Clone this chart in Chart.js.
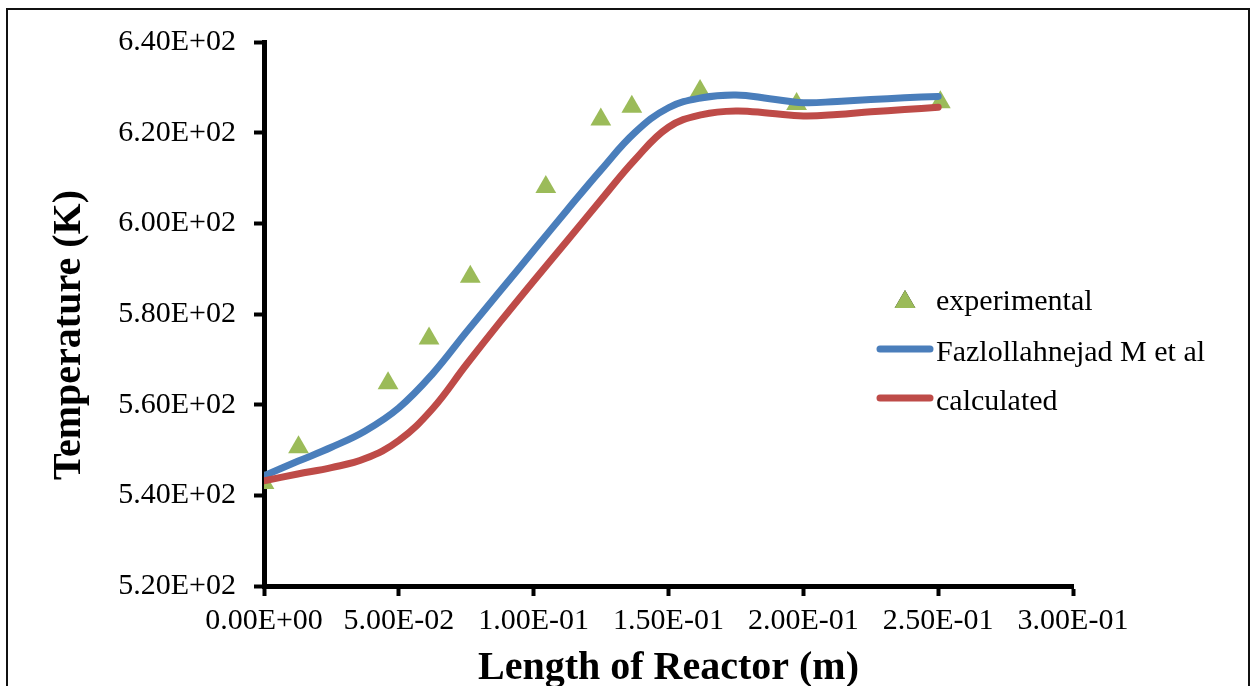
<!DOCTYPE html>
<html>
<head>
<meta charset="utf-8">
<script src="https://cdn.jsdelivr.net/npm/chart.js@4/dist/chart.umd.min.js"></script>
<style>
    body { margin: 0; background: #fff; }
    #wrap { position: relative; width: 1250px; height: 686px; overflow: hidden; }
    #frame { position: absolute; left: 6px; top: 8px; width: 1244px; height: 720px; box-sizing: border-box; border: 2px solid #111; pointer-events: none; }
</style>
</head>
<body>
<div id="wrap">
    <canvas id="reactorChart" width="1250" height="686"></canvas>
    <div id="frame"></div>
</div>
<script>
// measured positions along the reactor (m)
const expLength = [0, 0.0128, 0.046, 0.0612, 0.0765, 0.1045, 0.1249, 0.1364, 0.1617, 0.1975, 0.2508];
const experimental = [542.7, 550.6, 564.7, 574.6, 588.2, 608.0, 622.9, 625.7, 629.2, 626.3, 626.7];

// model profiles (K) at even steps along the reactor
const modelLength = [0, 0.0125, 0.025, 0.0375, 0.05, 0.0625, 0.075, 0.0875, 0.1, 0.1125, 0.125,
    0.1375, 0.15, 0.1625, 0.175, 0.1875, 0.2, 0.2125, 0.225, 0.2375, 0.25];
const fazlollahnejad = [544.3, 547.5, 550.6, 554.2, 559.3, 566.8, 576.0, 585.0, 594.0, 603.0, 611.8,
    620.0, 625.5, 627.7, 628.3, 627.5, 626.6, 626.9, 627.3, 627.7, 628.0];
const calculated = [543.2, 544.7, 546.1, 548.1, 552.1, 559.1, 568.8, 578.2, 587.3, 596.2, 605.2,
    614.0, 621.2, 624.0, 624.8, 624.3, 623.7, 624.0, 624.6, 625.1, 625.6];

const seriesNames = ['experimental', 'Fazlollahnejad M et al', 'calculated'];
const xTitle = 'Length of Reactor (m)';
const yTitle = 'Temperature (K)';
const xTicks = [0, 0.05, 0.1, 0.15, 0.2, 0.25, 0.3];
const yTicks = [520, 540, 560, 580, 600, 620, 640];

const GREEN = '#9BBB59';
const BLUE = '#4A7EBB';
const RED = '#BE4B48';
const SERIF = '"Liberation Serif", "Times New Roman", serif';

const toPoints = (xs, ys) => xs.map((x, i) => ({x: x, y: ys[i]}));

// Excel style scientific labels, e.g. 6.40E+02
const sci = v => {
    const parts = Number(v).toExponential(2).split('e');
    const exp = parseInt(parts[1], 10);
    return parts[0] + 'E' + (exp < 0 ? '-' : '+') + String(Math.abs(exp)).padStart(2, '0');
};

const titlesAndLegend = {
    id: 'titlesAndLegend',
    afterDraw(chart) {
        const {ctx, chartArea: a} = chart;
        ctx.save();
        ctx.fillStyle = '#000';
        ctx.font = 'bold 40px ' + SERIF;
        ctx.textAlign = 'center';
        ctx.textBaseline = 'alphabetic';
        ctx.fillText(xTitle, (a.left + a.right) / 2, a.bottom + 93);

        ctx.save();
        ctx.translate(a.left - 184, a.top + 293);
        ctx.rotate(-Math.PI / 2);
        ctx.fillText(yTitle, 0, 0);
        ctx.restore();

        // legend inside the plot, right side
        const lx = a.left + 672;
        const rows = [a.top + 260, a.top + 311, a.top + 360];
        ctx.font = '30px ' + SERIF;
        ctx.textAlign = 'left';
        ctx.textBaseline = 'middle';
        Chart.helpers.drawPoint(ctx, {pointStyle: 'triangle', radius: 12, rotation: 0, borderWidth: 0}, a.left + 641, rows[0]);
        ctx.fillStyle = GREEN;
        ctx.fill();
        ctx.lineCap = 'round';
        ctx.lineWidth = 7;
        [BLUE, RED].forEach((c, i) => {
            ctx.strokeStyle = c;
            ctx.beginPath();
            ctx.moveTo(a.left + 616, rows[i + 1] - 4);
            ctx.lineTo(a.left + 666, rows[i + 1] - 4);
            ctx.stroke();
        });
        ctx.fillStyle = '#000';
        seriesNames.forEach((name, i) => ctx.fillText(name, lx, rows[i]));
        ctx.restore();
    }
};

const axisCommon = {
    border: {display: true, color: '#000', width: 5},
    grid: {drawOnChartArea: false, drawTicks: true, tickLength: 10, tickWidth: 4, color: '#000'}
};

new Chart(document.getElementById('reactorChart').getContext('2d'), {
    type: 'scatter',
    data: {
        datasets: [{
            label: seriesNames[0],
            data: toPoints(expLength, experimental),
            pointStyle: 'triangle',
            pointRadius: 12,
            pointBackgroundColor: GREEN,
            pointBorderWidth: 0,
            showLine: false,
            order: 3
        }, {
            label: seriesNames[1],
            data: toPoints(modelLength, fazlollahnejad),
            showLine: true,
            pointRadius: 0,
            borderColor: BLUE,
            borderWidth: 7,
            borderCapStyle: 'round',
            borderJoinStyle: 'round',
            tension: 0.4,
            order: 2
        }, {
            label: seriesNames[2],
            data: toPoints(modelLength, calculated),
            showLine: true,
            pointRadius: 0,
            borderColor: RED,
            borderWidth: 7,
            borderCapStyle: 'round',
            borderJoinStyle: 'round',
            tension: 0.4,
            order: 1
        }]
    },
    options: {
        responsive: false,
        animation: false,
        devicePixelRatio: 1,
        layout: {padding: {top: 42, right: 177, bottom: 0, left: 0}},
        scales: {
            x: {
                ...axisCommon,
                type: 'linear',
                min: xTicks[0],
                max: xTicks[xTicks.length - 1],
                afterFit: scale => { scale.height = 100; },
                afterBuildTicks: scale => { scale.ticks = xTicks.map(v => ({value: v})); },
                ticks: {
                    color: '#000',
                    padding: 7,
                    maxRotation: 0,
                    font: {family: SERIF, size: 30},
                    callback: v => sci(v)
                }
            },
            y: {
                ...axisCommon,
                min: yTicks[0],
                max: yTicks[yTicks.length - 1],
                afterFit: scale => { scale.width = 264; },
                afterBuildTicks: scale => { scale.ticks = yTicks.map(v => ({value: v})); },
                ticks: {
                    color: '#000',
                    padding: 18,
                    font: {family: SERIF, size: 30},
                    callback: v => sci(v)
                }
            }
        },
        plugins: {
            legend: {display: false},
            tooltip: {enabled: false}
        }
    },
    plugins: [titlesAndLegend]
});
</script>
</body>
</html>
